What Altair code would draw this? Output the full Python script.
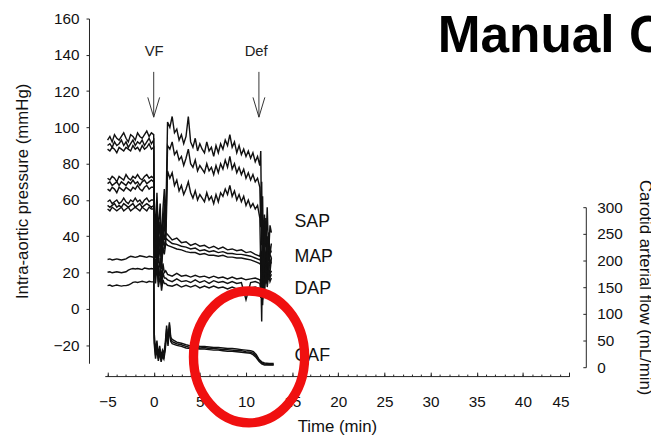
import altair as alt
import pandas as pd

FONT = "Liberation Sans"
W, H = 470, 349
X_DOMAIN = [-5.3, 45.0]
P_DOMAIN = [-30, 160]
AX_OFF = 13

# ---------------- time grids (min) ----------------
t_pre = [-5.0, -4.75, -4.5, -4.25, -4.0, -3.75, -3.5, -3.25, -3.0, -2.75, -2.5,
         -2.25, -2.0, -1.75, -1.5, -1.25, -1.0, -0.75, -0.5, -0.25, 0.0]
t_trans = [0.05, 0.2, 0.35, 0.5, 0.7, 0.85, 1.0, 1.15, 1.3]
t_cpr_fine = [1.5, 1.75, 2.0, 2.25, 2.5, 2.75, 3.0, 3.25, 3.5, 3.75, 4.0, 4.25,
              4.5, 4.75, 5.0, 5.25, 5.5, 5.75, 6.0, 6.25, 6.5, 6.75, 7.0, 7.25,
              7.5, 7.75, 8.0, 8.25, 8.5, 8.75, 9.0, 9.25, 9.5, 9.75, 10.0, 10.25,
              10.5, 10.75, 11.0, 11.25, 11.5]
t_cpr = [1.5, 2.0, 2.5, 3.0, 3.5, 4.0, 4.5, 5.0, 5.5, 6.0, 6.5, 7.0, 7.5, 8.0,
         8.5, 9.0, 9.5, 10.0, 10.5, 11.0, 11.5]
t_def = [11.6, 11.7, 11.8, 11.9, 12.0, 12.15, 12.3, 12.45, 12.6, 12.75]
t_caf_post = [0.05, 0.2, 0.35, 0.5, 0.65, 0.8, 0.95, 1.1, 1.25, 1.4, 1.55, 1.7,
              1.85, 2.0, 2.5, 3.0, 3.5, 4.0, 4.5, 5.0, 5.5, 6.0, 6.5, 7.0, 7.5,
              8.0, 8.5, 9.0, 9.5, 10.0, 10.5, 10.8, 11.1, 11.4, 11.7, 12.0,
              12.5, 13.0]

# ---------------- SAP (mmHg) ----------------
sap_hi_pre = [93, 95, 92, 96, 94, 93, 95, 97, 94, 92, 96, 95, 93, 97, 95, 94, 96, 98, 95, 97, 96]
sap_mid_pre = [90, 91, 89, 92, 90, 91, 93, 90, 92, 89, 91, 93, 90, 92, 91, 93, 90, 92, 94, 91, 93]
sap_lo_pre = [88, 87, 89, 88, 86, 89, 88, 87, 89, 88, 87, 90, 88, 89, 87, 90, 88, 89, 91, 88, 89]
sap_hi_trans = [62, 40, 64, 42, 58, 35, 55, 66, 45]
sap_mid_trans = [50, 35, 55, 38, 48, 30, 45, 58, 40]
sap_lo_trans = [40, 30, 45, 32, 40, 25, 38, 50, 35]
sap_hi_cpr = [103, 100, 106, 97, 99, 93, 96, 91, 95, 106, 92, 89, 94, 87, 91, 88, 86,
              92, 87, 89, 84, 90, 86, 91, 88, 93, 90, 96, 89, 92, 86, 90, 85, 88,
              84, 87, 83, 86, 81, 84, 79]
sap_mid_cpr = [90, 88, 92, 85, 87, 82, 84, 79, 83, 88, 80, 78, 82, 76, 79, 77, 75,
               80, 76, 78, 74, 79, 75, 80, 77, 82, 78, 84, 77, 80, 75, 78, 74, 77,
               72, 75, 71, 74, 70, 72, 67]
sap_lo_cpr = [76, 72, 75, 68, 71, 65, 68, 63, 66, 70, 64, 61, 65, 60, 63, 61, 59,
              64, 60, 62, 58, 63, 59, 64, 62, 66, 63, 68, 62, 65, 60, 63, 59, 62,
              57, 60, 56, 58, 55, 57, 50]
sap_hi_def = [87, 35, 62, 22, 52, 34, 56, 30, 46, 42]
sap_mid_def = [45, 70, 18, 46, 26, 50, 20, 42, 30, 36]
sap_lo_def = [22, -7, 36, 10, 32, 14, 26, 40, 20, 28]

# ---------------- MAP (mmHg) ----------------
map_hi_pre = [72, 71, 73, 72, 70, 73, 72, 71, 74, 72, 71, 73, 72, 74, 72, 71, 73, 74, 72, 73, 72]
map_mid_pre = [69, 70, 68, 69, 70, 68, 70, 69, 68, 70, 69, 71, 69, 70, 68, 70, 71, 69, 70, 71, 70]
map_lo_pre = [66, 65, 67, 66, 64, 67, 66, 65, 67, 66, 65, 67, 66, 68, 66, 65, 67, 68, 66, 67, 67]
map_hi_trans = [50, 40, 58, 36, 48, 32, 45, 38, 42]
map_mid_trans = [42, 35, 48, 30, 40, 28, 40, 33, 39]
map_lo_trans = [36, 28, 40, 25, 35, 22, 34, 30, 36]
map_hi_cpr = [41, 38, 39, 36.5, 37, 35, 36, 34.5, 35, 33.5, 34.5, 33, 34, 32.5, 33,
              32, 32.5, 31, 31.5, 30, 29]
map_mid_cpr = [38, 36, 35.5, 34.5, 34, 33, 33.5, 32, 32.5, 31.5, 32, 31, 31.5, 30.5,
               30.5, 30, 30, 29.5, 29, 28, 27]
map_lo_cpr = [35, 34, 33, 32.5, 31.5, 31, 31, 30, 30.5, 29.5, 29.5, 29, 29.5, 28.5,
              28.5, 28, 28, 27.5, 27, 26, 25]
map_hi_def = [32, 22, 46, 26, 36, 24, 40, 29, 33, 31]
map_mid_def = [28, 18, 40, 22, 32, 20, 36, 26, 30, 28]
map_lo_def = [24, 12, 35, 18, 28, 16, 32, 22, 27, 25]

# ---------------- DAP (mmHg) ----------------
dap_hi_pre = [59, 60, 58, 59, 60, 58, 59, 61, 59, 58, 60, 59, 61, 59, 60, 58, 60, 61, 59, 60, 60]
dap_mid_pre = [57, 56, 57, 58, 56, 57, 56, 58, 57, 56, 57, 58, 56, 57, 58, 56, 57, 58, 57, 56, 57]
dap_lo_pre = [55, 54, 56, 55, 54, 55, 56, 54, 55, 56, 54, 55, 56, 55, 54, 56, 55, 54, 56, 55, 55]
dap_hi_trans = [30, 22, 35, 18, 28, 15, 25, 20, 21]
dap_mid_trans = [25, 18, 30, 15, 22, 13, 20, 17, 17]
dap_lo_trans = [20, 14, 25, 12, 18, 10, 16, 14, 14]
dap_hi_cpr = [19, 18, 19.5, 18, 18.5, 17.5, 18.5, 17.5, 18, 17, 18, 17, 17.5, 16.5,
              17.5, 16.5, 17, 16, 16.5, 17, 16]
dap_mid_cpr = [16, 15, 16.5, 15, 15.5, 14.5, 16, 14.5, 15.5, 14, 15.5, 14.5, 15, 14,
               15, 14, 14.5, 5, 14.5, 15, 14]
dap_lo_cpr = [13, 12.5, 13.5, 12, 13, 12, 13, 11.5, 12.5, 11.5, 12.5, 11.5, 12, 11,
              12, 11, 11.5, 11, 11.5, 12, 11]
dap_hi_def = [14, 24, 8, 20, 13, 26, 16, 23, 19, 21]
dap_mid_def = [10, 22, 5, 18, 11, 24, 14, 21, 17, 19]
dap_lo_def = [6, 18, 2, 15, 9, 20, 12, 19, 15, 17]

# ---------------- CAF (mL/min, right axis) ----------------
caf_hi_pre = [202, 203, 201, 202, 203, 202, 201, 202, 203, 206, 208, 207, 206, 207, 209, 208, 207, 206, 208, 207, 206]
caf_mid_pre = [178, 179, 177, 178, 179, 178, 177, 178, 179, 182, 184, 185, 184, 185, 184, 183, 186, 185, 184, 185, 184]
caf_lo_pre = [153, 154, 152, 153, 154, 153, 152, 153, 153, 154, 156, 159, 160, 159, 160, 161, 160, 159, 161, 160, 160]
caf_hi_post = [65, 30, 50, 22, 40, 20, 32, 26, 45, 78, 50, 84, 56, 52, 47, 45, 42, 40, 41,
               39, 39, 38, 37, 37, 36, 35, 35, 34, 33, 32, 31, 29, 24, 15, 10, 8, 7, 7]
caf_mid_post = [55, 22, 42, 16, 34, 14, 26, 20, 38, 72, 44, 80, 52, 48, 44, 42, 39, 37, 38,
                36, 37, 35, 35, 34, 33, 33, 32, 31, 31, 29, 28, 26, 21, 13, 8, 6, 5, 5]
caf_lo_post = [45, 16, 35, 12, 28, 10, 20, 15, 32, 64, 40, 74, 48, 44, 41, 39, 36, 35, 35,
               34, 34, 33, 32, 32, 31, 30, 30, 29, 28, 27, 26, 23, 18, 11, 6, 4, 4, 4]

# ---------------- annotations ----------------
event_labels = ["VF", "Def"]
event_label_t = [0.05, 11.1]
event_label_v = [141.8]
arrow_t = [0.0, 11.4]
arrow_top_v = [130.6]
arrow_tip_v = [105.6]
arrow_head_v = [111.1]
series_labels = ["SAP", "MAP", "DAP", "CAF"]
series_label_t = [15.25]
series_label_v = [47.6, 28.4, 10.7, -26.3]
title_text = "Manual CPR"
title_t = [30.77]
title_v = [141.5]
circle_t = [10.33]
circle_v = [-26.5]

x_major = [-5, 0, 5, 10, 15, 20, 25, 30, 35, 40, 45]
x_minor = list(range(-5, 46))
y_left_ticks = [-20, 0, 20, 40, 60, 80, 100, 120, 140, 160]
y_right_ticks = [0, 50, 100, 150, 200, 250, 300]

# ---------------- tables ----------------
t_sap = t_pre + t_trans + t_cpr_fine + t_def
t_md = t_pre + t_trans + t_cpr + t_def
t_caf = t_pre + t_caf_post

press_groups = [
    ("SAP_hi", t_sap, sap_hi_pre + sap_hi_trans + sap_hi_cpr + sap_hi_def),
    ("SAP_mid", t_sap, sap_mid_pre + sap_mid_trans + sap_mid_cpr + sap_mid_def),
    ("SAP_lo", t_sap, sap_lo_pre + sap_lo_trans + sap_lo_cpr + sap_lo_def),
    ("MAP_hi", t_md, map_hi_pre + map_hi_trans + map_hi_cpr + map_hi_def),
    ("MAP_mid", t_md, map_mid_pre + map_mid_trans + map_mid_cpr + map_mid_def),
    ("MAP_lo", t_md, map_lo_pre + map_lo_trans + map_lo_cpr + map_lo_def),
    ("DAP_hi", t_md, dap_hi_pre + dap_hi_trans + dap_hi_cpr + dap_hi_def),
    ("DAP_mid", t_md, dap_mid_pre + dap_mid_trans + dap_mid_cpr + dap_mid_def),
    ("DAP_lo", t_md, dap_lo_pre + dap_lo_trans + dap_lo_cpr + dap_lo_def),
]
rows = []
for name, ts, vs in press_groups:
    for t, v in zip(ts, vs):
        rows.append({"t": t, "v": v, "line": name})
press_df = pd.DataFrame(rows)

caf_groups = [
    ("CAF_hi", t_caf, caf_hi_pre + caf_hi_post),
    ("CAF_mid", t_caf, caf_mid_pre + caf_mid_post),
    ("CAF_lo", t_caf, caf_lo_pre + caf_lo_post),
]
rows = []
for name, ts, vs in caf_groups:
    for t, v in zip(ts, vs):
        rows.append({"t": t, "caf": v, "line": name})
caf_df = pd.DataFrame(rows)

event_df = pd.DataFrame({"t": event_label_t, "v": event_label_v * 2, "label": event_labels})
arrow_df = pd.DataFrame({"t": arrow_t, "v": arrow_top_v * 2, "v2": arrow_tip_v * 2,
                         "h": arrow_head_v * 2})
series_df = pd.DataFrame({"t": series_label_t * 4, "v": series_label_v, "label": series_labels})
title_df = pd.DataFrame({"t": title_t, "v": title_v, "label": [title_text]})
circle_df = pd.DataFrame({"t": circle_t, "v": circle_v})

# ---------------- scales & axes ----------------
xs = alt.Scale(domain=X_DOMAIN, nice=False, zero=False)
ps = alt.Scale(domain=P_DOMAIN, nice=False, zero=False)
cs = alt.Scale(domain=[0, 300], range=[353, 191], nice=False, zero=False)

INK = "#111111"
LW = 1.45

x_labels_axis = alt.Axis(orient="bottom", offset=AX_OFF, domain=False, ticks=False,
                         values=x_major, labelFontSize=15.5, labelPadding=19,
                         title="Time (min)", titleFontSize=17, titlePadding=9,
                         titleFontWeight="normal")
x_major_axis = alt.Axis(orient="top", offset=-(H + AX_OFF), domain=True, ticks=True,
                        tickSize=4, values=x_major, labels=False, title=None)
x_minor_axis = alt.Axis(orient="top", offset=-(H + AX_OFF), domain=False, ticks=True,
                        tickSize=2, values=x_minor, labels=False, title=None)

y_left_axis = alt.Axis(orient="left", offset=16, values=y_left_ticks, tickSize=3,
                       labelPadding=7, labelFontSize=15.5,
                       title="Intra-aortic pressure (mmHg)", titleFontSize=17,
                       titlePadding=22, titleFontWeight="normal")
# right axis: line + inward ticks drawn as a left-oriented axis shifted to the right edge
y_right_line_axis = alt.Axis(orient="left", offset=-(W + 17), values=y_right_ticks,
                             tickSize=3, labels=False, title=None)
y_right_label_axis = alt.Axis(orient="right", offset=17, values=y_right_ticks,
                              domain=False, ticks=False, labelPadding=11,
                              labelFontSize=15.5,
                              title="Carotid arterial flow (mL/min)", titleFontSize=17,
                              titleAngle=90, titlePadding=14, titleFontWeight="normal")

press = alt.Chart(press_df).mark_line(color=INK, strokeWidth=LW).encode(
    x=alt.X("t:Q", scale=xs, axis=x_labels_axis),
    y=alt.Y("v:Q", scale=ps, axis=y_left_axis),
    detail="line:N",
)

caf = alt.Chart(caf_df).mark_line(color=INK, strokeWidth=LW).encode(
    x=alt.X("t:Q", scale=xs, axis=x_major_axis),
    y=alt.Y("caf:Q", scale=cs, axis=y_right_label_axis),
    detail="line:N",
)

caf_axis_carrier = alt.Chart(caf_df).mark_line(strokeOpacity=0).encode(
    x=alt.X("t:Q", scale=xs, axis=None),
    y=alt.Y("caf:Q", scale=cs, axis=y_right_line_axis),
    detail="line:N",
)

series_text = alt.Chart(series_df).mark_text(align="left", baseline="middle",
                                             fontSize=18, color=INK).encode(
    x=alt.X("t:Q", scale=xs, axis=x_minor_axis),
    y=alt.Y("v:Q", scale=ps, axis=None),
    text="label:N",
)

event_text = alt.Chart(event_df).mark_text(align="center", baseline="middle",
                                           fontSize=15, color="#222222").encode(
    x=alt.X("t:Q", scale=xs, axis=None),
    y=alt.Y("v:Q", scale=ps, axis=None),
    text="label:N",
)

arrow_line = alt.Chart(arrow_df).mark_rule(color="#333333", strokeWidth=1).encode(
    x=alt.X("t:Q", scale=xs, axis=None),
    y=alt.Y("v:Q", scale=ps, axis=None),
    y2="v2:Q",
)

ARROW = "M -0.3 -0.5 L 0 0.5 L 0.3 -0.5"
arrow_head = alt.Chart(arrow_df).mark_point(shape=ARROW, size=1600, filled=False,
                                            stroke="#333333", strokeWidth=1,
                                            opacity=1).encode(
    x=alt.X("t:Q", scale=xs, axis=None),
    y=alt.Y("h:Q", scale=ps, axis=None),
)

title_mark = alt.Chart(title_df).mark_text(align="left", baseline="alphabetic",
                                           fontSize=52, fontWeight="bold",
                                           color="#000000").encode(
    x=alt.X("t:Q", scale=xs, axis=None),
    y=alt.Y("v:Q", scale=ps, axis=None),
    text="label:N",
)

ELLIPSE = ("M 1 0 C 1 0.6556 0.5523 1.187 0 1.187 C -0.5523 1.187 -1 0.6556 -1 0 "
           "C -1 -0.6556 -0.5523 -1.187 0 -1.187 C 0.5523 -1.187 1 -0.6556 1 0 Z")
circle = alt.Chart(circle_df).mark_point(shape=ELLIPSE, size=12656, filled=False,
                                         stroke="#f01010", strokeWidth=9.5,
                                         opacity=1).encode(
    x=alt.X("t:Q", scale=xs, axis=None),
    y=alt.Y("v:Q", scale=ps, axis=None),
)

chart = alt.layer(
    press, caf, caf_axis_carrier, series_text, event_text, arrow_line, arrow_head,
    title_mark, circle
).resolve_scale(y="independent").resolve_axis(x="independent", y="independent").properties(
    width=W, height=H,
    autosize=alt.AutoSizeParams(type="none"),
    padding={"left": 98, "top": 8, "right": 83, "bottom": 72},
    background="white",
).configure_view(stroke=None).configure_axis(
    labelFont=FONT, titleFont=FONT, labelColor=INK, titleColor=INK,
    domainColor="#222222", tickColor="#222222", grid=False,
).configure_text(font=FONT)

chart.save("out.html", embed_options={"renderer": "svg", "actions": False})
